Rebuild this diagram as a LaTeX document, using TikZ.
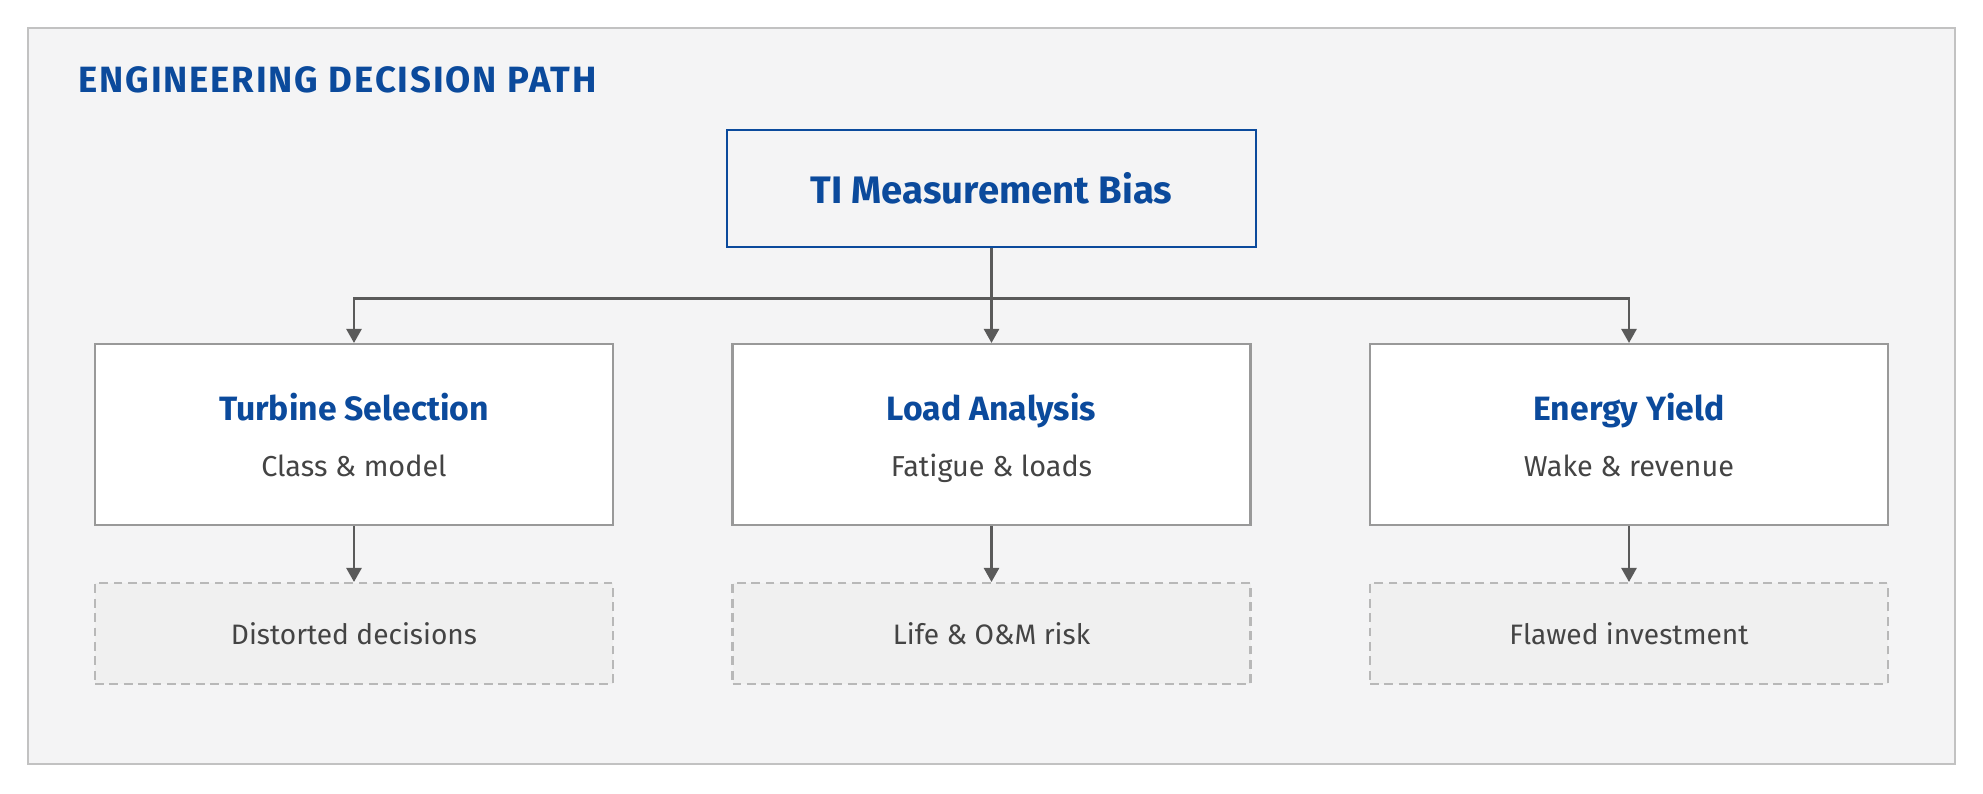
\documentclass[tikz,border=0pt]{standalone}
\usepackage{fontspec}
\setmainfont{Fira Sans}
\usepackage{xcolor}
\usetikzlibrary{arrows.meta}

\definecolor{deepblue}{HTML}{0B4A9C}
\definecolor{inktext}{HTML}{444444}
\definecolor{wiregray}{HTML}{5A5A5A}
\definecolor{panelgray}{HTML}{F4F4F5}
\definecolor{rimgray}{HTML}{C2C2C2}

\tikzset{
  mainbox/.style={draw=deepblue,fill=panelgray,line width=0.6pt,minimum width=5.29cm,minimum height=1.17cm,inner sep=0pt,
    text=deepblue,font=\fontsize{10.9}{13}\selectfont\bfseries},
  midbox/.style={draw=black!40,fill=white,line width=0.6pt,minimum width=5.18cm,minimum height=1.81cm,inner sep=0pt},
  riskbox/.style={draw=black!28,fill=black!6,line width=0.6pt,dash pattern=on 2.5pt off 1.6pt,minimum width=5.18cm,minimum height=1.01cm,
    inner sep=0pt,text=inktext,font=\fontsize{8.0}{10}\selectfont},
  headtxt/.style={anchor=base,inner sep=0pt,text=deepblue,font=\fontsize{9.6}{11}\selectfont\bfseries},
  subtxt/.style={anchor=base,inner sep=0pt,text=inktext,font=\fontsize{8.2}{10}\selectfont},
  wire/.style={draw=wiregray,line width=0.7pt,-{Triangle[width=4.3pt,length=4pt]}}
}

\begin{document}
\begin{tikzpicture}
  \useasboundingbox (0,0) rectangle (19.83,-7.93);
  \fill[white] (0,0) rectangle (19.83,-7.93);
  \draw[rimgray,fill=panelgray,line width=0.6pt] (0.28,-0.28) rectangle (19.55,-7.64);
  \node[anchor=base west,inner sep=0pt,text=deepblue,font=\fontsize{10.4}{12}\selectfont\bfseries\addfontfeatures{LetterSpace=5}] (heading) at (0.78,-0.923) {ENGINEERING DECISION PATH};

  % source of the bias
  \node[mainbox] (bias) at (9.915,-1.885) {TI Measurement Bias};

  % three engineering areas
  \node[midbox] (turb) at (3.54,-4.345) {};
  \node[midbox] (load) at (9.915,-4.345) {};
  \node[midbox] (yield) at (16.29,-4.345) {};
  \node[headtxt] (turbT) at ([yshift=1.4mm]turb.center) {Turbine Selection};
  \node[subtxt] (turbS) at ([yshift=-4.23mm]turb.center) {Class \& model};
  \node[headtxt] (loadT) at ([yshift=1.4mm]load.center) {Load Analysis};
  \node[subtxt] (loadS) at ([yshift=-4.23mm]load.center) {Fatigue \& loads};
  \node[headtxt] (yieldT) at ([yshift=1.4mm]yield.center) {Energy Yield};
  \node[subtxt] (yieldS) at ([yshift=-4.23mm]yield.center) {Wake \& revenue};

  % consequences
  \node[riskbox] (turbR) at (3.54,-6.335) {Distorted decisions};
  \node[riskbox] (loadR) at (9.915,-6.335) {Life \& O\&M risk};
  \node[riskbox] (yieldR) at (16.29,-6.335) {Flawed investment};

  \coordinate (split) at (9.915,-2.985);
  \draw[wire] (bias.south) -- (load.north);
  \draw[wire] (split) -| (turb.north);
  \draw[wire] (split) -| (yield.north);
  \draw[wire] (turb.south) -- (turbR.north);
  \draw[wire] (load.south) -- (loadR.north);
  \draw[wire] (yield.south) -- (yieldR.north);
\end{tikzpicture}
\end{document}
